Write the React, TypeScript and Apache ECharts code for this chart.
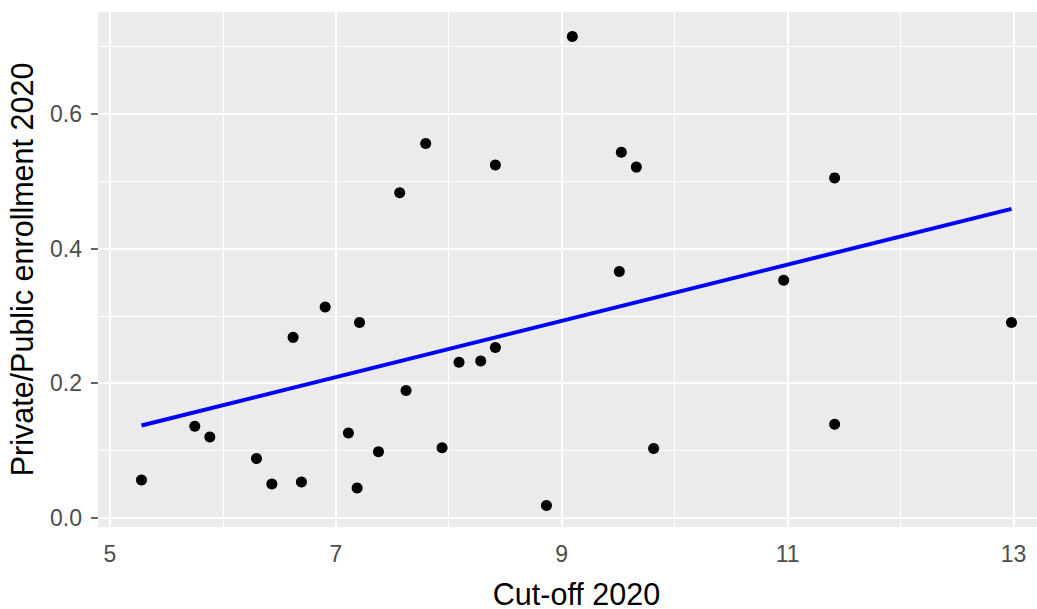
import React, { useEffect, useRef } from "react";
import * as echarts from "echarts";

// Cut-off 2020 (x) and Private/Public enrollment 2020 (y)
const cutoff = [5.28, 5.752, 5.885, 6.298, 6.434, 6.622, 6.696, 6.906, 7.112, 7.189, 7.21, 7.378, 7.566, 7.622, 7.796, 7.941, 8.091, 8.283, 8.413, 8.413, 8.865, 9.094, 9.51, 9.528, 9.661, 9.814, 10.965, 11.416, 11.416, 12.982];
const ratio = [0.056, 0.136, 0.12, 0.088, 0.05, 0.268, 0.053, 0.313, 0.126, 0.044, 0.29, 0.098, 0.483, 0.189, 0.556, 0.104, 0.231, 0.233, 0.253, 0.524, 0.018, 0.715, 0.366, 0.543, 0.521, 0.103, 0.353, 0.505, 0.139, 0.29];

// fitted linear trend
const fitX = [5.28, 12.982];
const fitY = [0.137, 0.459];

// ticks / grid
const xMajor = [5, 7, 9, 11, 13];
const xMinor = [6, 8, 10, 12];
const yMajor = [0, 0.2, 0.4, 0.6];
const yMinor = [0.1, 0.3, 0.5, 0.7];
const xTickLabels = ["5", "7", "9", "11", "13"];
const yTickLabels = ["0.0", "0.2", "0.4", "0.6"];

const FONT = "Liberation Sans, Arial, sans-serif";

export default function App() {
  const ref = useRef<HTMLDivElement>(null);
  useEffect(() => {
    document.body.style.margin = "0";
    if (!ref.current) return;
    const chart = echarts.init(ref.current, undefined, { renderer: "svg" });
    const gridLines = [
      ...xMajor.map((v) => ({ xAxis: v, lineStyle: { color: "#FFFFFF", width: 2, type: "solid" as const } })),
      ...xMinor.map((v) => ({ xAxis: v, lineStyle: { color: "#FFFFFF", width: 1.1, type: "solid" as const } })),
      ...yMajor.map((v) => ({ yAxis: v, lineStyle: { color: "#FFFFFF", width: 2, type: "solid" as const } })),
      ...yMinor.map((v) => ({ yAxis: v, lineStyle: { color: "#FFFFFF", width: 1.1, type: "solid" as const } })),
    ];
    chart.setOption({
      animation: false,
      grid: {
        left: 98,
        width: 957,
        top: 12,
        height: 515,
        outerBoundsMode: "none",
        containLabel: false,
        show: true,
        backgroundColor: "#EBEBEB",
        borderWidth: 0,
      },
      xAxis: {
        type: "value",
        min: 4.895,
        max: 13.367,
        name: "Cut-off 2020",
        nameLocation: "middle",
        nameGap: 51,
        nameTextStyle: { color: "#000000", fontSize: 30.5, fontFamily: FONT },
        axisLine: { show: false },
        splitLine: { show: false },
        axisTick: { show: true, customValues: xMajor, length: 6, lineStyle: { color: "#333333", width: 1.5 } },
        axisLabel: {
          customValues: xMajor,
          margin: 15,
          color: "#4D4D4D",
          fontSize: 23,
          fontFamily: FONT,
          formatter: (v: number) => xTickLabels[xMajor.indexOf(v)] ?? String(v),
        },
      },
      yAxis: {
        type: "value",
        min: -0.0138,
        max: 0.7515,
        name: "Private/Public enrollment 2020",
        nameLocation: "middle",
        nameGap: 61,
        nameTextStyle: { color: "#000000", fontSize: 30.5, fontFamily: FONT },
        axisLine: { show: false },
        splitLine: { show: false },
        axisTick: { show: true, customValues: yMajor, length: 7, lineStyle: { color: "#333333", width: 1.5 } },
        axisLabel: {
          customValues: yMajor,
          margin: 16,
          color: "#4D4D4D",
          fontSize: 23,
          fontFamily: FONT,
          formatter: (v: number) => {
            const i = yMajor.findIndex((m) => Math.abs(m - v) < 1e-9);
            return i >= 0 ? yTickLabels[i] : v.toFixed(1);
          },
        },
      },
      series: [
        {
          type: "scatter",
          data: [],
          z: 1,
          silent: true,
          markLine: {
            silent: true,
            symbol: ["none", "none"],
            label: { show: false },
            emphasis: { disabled: true },
            data: gridLines,
          },
        },
        {
          type: "scatter",
          z: 5,
          symbol: "circle",
          symbolSize: 11,
          itemStyle: { color: "#000000", opacity: 1 },
          data: cutoff.map((x, i) => [x, ratio[i]]),
        },
        {
          type: "line",
          z: 6,
          showSymbol: false,
          symbol: "none",
          lineStyle: { color: "#0000FF", width: 4 },
          data: fitX.map((x, i) => [x, fitY[i]]),
        },
      ],
    });
    return () => chart.dispose();
  }, []);
  return <div ref={ref} style={{ width: 1037, height: 609 }} />;
}
